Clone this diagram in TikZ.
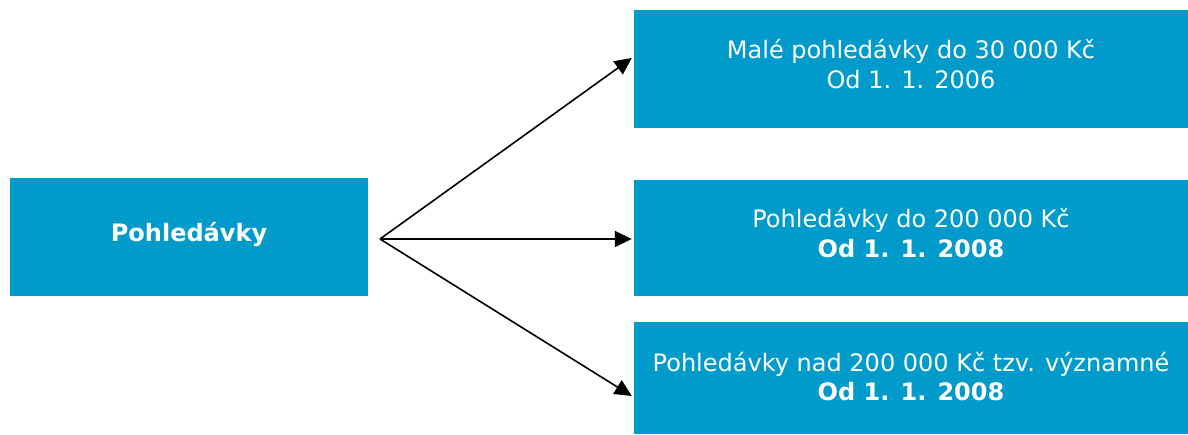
\documentclass[tikz,border=0pt]{standalone}
\usepackage{fontspec}
\setmainfont{DejaVu Sans}
\usetikzlibrary{arrows.meta}
\definecolor{boxblue}{HTML}{009BCB}
\begin{document}
\begin{tikzpicture}[x=1pt,y=1pt,
  bluebox/.style={fill=boxblue, draw=none, inner sep=0pt},
  boxtext/.style={text=white, inner sep=0pt, align=center,
    font=\fontsize{24}{29.5}\selectfont},
  conn/.style={line width=1.6pt, -{Triangle[length=17pt,width=16pt]}}]
\useasboundingbox (0,0) rectangle (1188,434);
\node[bluebox, minimum width=358pt, minimum height=118pt] (src) at (189,197) {};
\node[bluebox, minimum width=554pt, minimum height=118pt] (a) at (911,365) {};
\node[bluebox, minimum width=554pt, minimum height=116pt] (b) at (911,196) {};
\node[bluebox, minimum width=554pt, minimum height=112pt] (c) at (911,56) {};
\node[boxtext, font=\bfseries\fontsize{24}{29.5}\selectfont] (srcT) at ([yshift=3pt]src.center) {Pohledávky};
\node[boxtext] (aT) at ([yshift=5pt]a.center) {Malé pohledávky do 30 000 Kč\\Od 1. 1. 2006};
\node[boxtext] (bT) at ([yshift=5pt]b.center) {Pohledávky do 200 000 Kč\\\textbf{Od 1. 1. 2008}};
\node[boxtext] (cT) at ([yshift=1.5pt]c.center) {Pohledávky nad 200 000 Kč tzv. významné\\\textbf{Od 1. 1. 2008}};
\coordinate (fork) at (380,195);
\draw[conn] (fork) -- ([xshift=-2pt,yshift=11pt]a.west);
\draw[conn] (fork) -- ([xshift=-2pt]b.west |- fork);
\draw[conn] (fork) -- ([xshift=-2pt,yshift=-18pt]c.west);
\end{tikzpicture}
\end{document}
